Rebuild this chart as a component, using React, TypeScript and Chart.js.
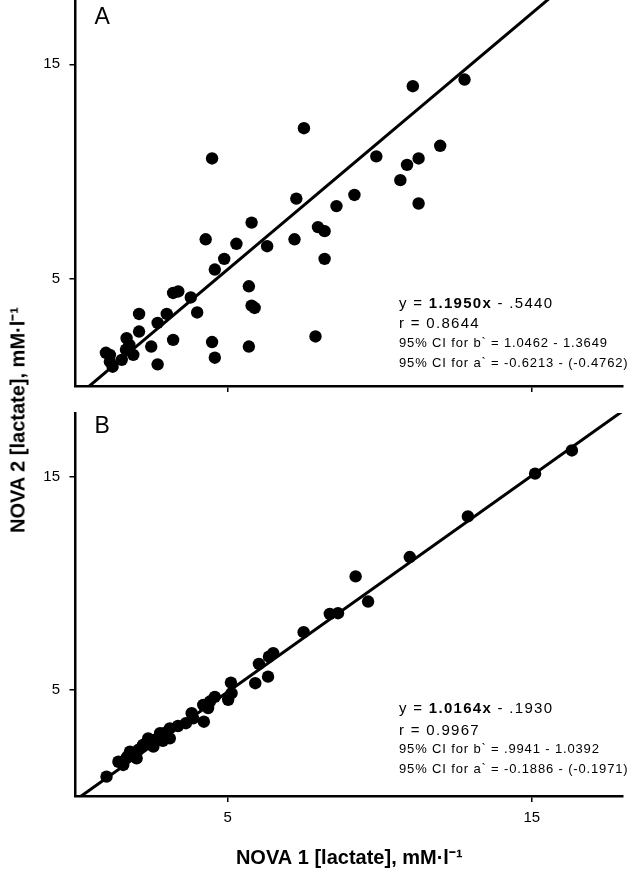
import React, { useEffect, useRef } from 'react';
import { Chart, registerables } from 'chart.js';

Chart.register(...registerables);

// ---- Data ----
const panelANova1 = [7.51, 4.49, 7.26, 9.17, 8.58, 5.79, 4.28, 5.29, 6.3, 7.2, 7.97, 8.19, 8.19, 4.89, 4.58, 5.7, 5.79, 5.89, 3.79, 3.21, 3.38, 4.0, 3.0, 2.09, 2.7, 2.09, 1.68, 3.21, 4.49, 5.7, 7.89, 2.49, 1.77, 4.58, 2.7, 1.9, 1.52, 1.13, 1.13, 1.22, 11.09, 12.79, 9.89, 11.99, 11.28, 10.9, 10.68, 11.28, 1.66, 1.0];
const panelANova2 = [12.02, 10.61, 8.74, 8.91, 8.39, 7.62, 6.84, 6.63, 6.52, 6.84, 7.41, 7.22, 5.93, 5.93, 5.43, 4.65, 3.75, 3.64, 4.13, 4.34, 4.41, 3.43, 3.36, 3.36, 2.94, 2.54, 2.23, 2.15, 2.05, 1.84, 2.31, 1.84, 1.92, 1.32, 1.01, 1.45, 1.22, 1.45, 1.14, 0.9, 13.98, 14.29, 10.71, 11.2, 10.61, 10.31, 9.6, 8.51, 1.69, 1.55];

const panelBNova1 = [16.32, 15.11, 12.9, 10.99, 9.21, 9.62, 8.36, 8.63, 7.5, 6.5, 6.36, 6.03, 5.91, 6.33, 5.11, 5.13, 5.02, 4.42, 4.2, 4.36, 4.22, 3.82, 3.87, 3.63, 3.1, 3.1, 2.78, 2.39, 2.56, 2.06, 1.79, 2.01, 1.41, 1.57, 1.02, 2.94, 2.61, 2.22, 3.37, 4.58, 2.87, 1.69];
const panelBNova2 = [16.24, 15.15, 13.14, 11.23, 10.32, 9.14, 8.56, 8.59, 7.7, 6.71, 6.55, 6.21, 5.3, 5.61, 5.33, 4.83, 4.52, 4.44, 4.28, 4.13, 3.49, 3.89, 3.65, 3.42, 3.18, 2.71, 2.95, 2.71, 2.32, 2.16, 2.08, 1.77, 1.61, 1.46, 0.91, 2.96, 2.63, 2.4, 3.29, 4.66, 2.59, 1.83];

const axisTicks = [5, 15];
const axisMin = 0;
const axisMax = 18;

const fitASlope = 1.195;
const fitAIntercept = -0.544;
const fitBSlope = 1.0164;
const fitBIntercept = -0.193;

const statsAEquation = ['y = ', '1.1950x', ' - .5440'];
const statsALines = ['r = 0.8644', '95% CI for b` = 1.0462 - 1.3649', '95% CI for a` = -0.6213 - (-0.4762)'];
const statsBEquation = ['y = ', '1.0164x', ' - .1930'];
const statsBLines = ['r = 0.9967', '95% CI for b` = .9941 - 1.0392', '95% CI for a` = -0.1886 - (-0.1971)'];

const xTitle = 'NOVA 1 [lactate], mM·l⁻¹';
const yTitle = 'NOVA 2 [lactate], mM·l⁻¹';

const FONT = '"Liberation Sans", Arial, Helvetica, sans-serif';

function toPoints(xs: number[], ys: number[]) {
  return xs.map((x, i) => ({ x, y: ys[i] }));
}

function fitLine(slope: number, intercept: number) {
  return [axisMin, axisMax].map((x) => ({ x, y: intercept + slope * x }));
}

function annotationPlugin(letter: string, letterBaseline: number, eq: string[], lines: string[], offsets: number[]) {
  return {
    id: 'panelAnnotations',
    afterDraw(chart: any) {
      const { ctx, chartArea } = chart;
      ctx.save();
      ctx.fillStyle = '#000';
      ctx.textAlign = 'left';
      ctx.textBaseline = 'alphabetic';
      ctx.font = `23px ${FONT}`;
      ctx.fillText(letter, chartArea.left + 19, chartArea.top + letterBaseline);
      const x0 = chartArea.left + 323.5;
      let x = x0;
      (ctx as any).letterSpacing = '1.3px';
      eq.forEach((part, i) => {
        ctx.font = `${i === 1 ? 'bold ' : ''}15px ${FONT}`;
        ctx.fillText(part, x, chartArea.bottom + offsets[0]);
        x += ctx.measureText(part).width;
      });
      ctx.font = `15px ${FONT}`;
      ctx.fillText(lines[0], x0, chartArea.bottom + offsets[1]);
      (ctx as any).letterSpacing = '0.85px';
      ctx.font = `13px ${FONT}`;
      ctx.fillText(lines[1], x0, chartArea.bottom + offsets[2]);
      ctx.fillText(lines[2], x0, chartArea.bottom + offsets[3]);
      ctx.restore();
    },
  };
}

function makeScale(axis: 'x' | 'y', size: number, showLabels: boolean, title?: string) {
  const s: any = {
    type: 'linear',
    min: axisMin,
    max: axisMax,
    afterBuildTicks: (scale: any) => {
      scale.ticks = axisTicks.map((value) => ({ value }));
    },
    afterFit: (scale: any) => {
      if (axis === 'x') scale.height = size;
      else scale.width = size;
      scale.paddingTop = 0;
      scale.paddingBottom = 0;
      scale.paddingLeft = 0;
      scale.paddingRight = 0;
    },
    grid: {
      display: true,
      drawOnChartArea: false,
      drawTicks: true,
      tickLength: 6,
      color: '#000',
      lineWidth: 1.5,
    },
    border: { display: true, color: '#000', width: 2.5 },
    ticks: {
      display: showLabels,
      color: '#000',
      font: { family: FONT, size: 15 },
      padding: axis === 'x' ? 7 : 9.5,
      callback: (v: number) => String(v),
    },
  };
  if (title) {
    s.title = {
      display: true,
      text: title,
      color: '#000',
      font: { family: FONT, size: 20, weight: 'bold' },
      padding: { top: 0, bottom: 2 },
    };
  }
  return s;
}

function makeConfig(xs: number[], ys: number[], slope: number, intercept: number, xHeight: number, padTop: number, showXLabels: boolean, xTitleText: string | undefined, plugin: any) {
  return {
    type: 'scatter' as const,
    data: {
      datasets: [
        {
          data: fitLine(slope, intercept),
          showLine: true,
          borderColor: '#000',
          borderWidth: 3,
          pointRadius: 0,
          fill: false,
        },
        {
          data: toPoints(xs, ys),
          backgroundColor: '#000',
          borderWidth: 0,
          pointRadius: 6.2,
          pointHoverRadius: 6.2,
        },
      ],
    },
    options: {
      responsive: false,
      animation: false,
      devicePixelRatio: 1,
      layout: { autoPadding: false, padding: { left: 0, right: 10, top: padTop, bottom: 0 } },
      plugins: { legend: { display: false }, tooltip: { enabled: false } },
      events: [],
      scales: {
        x: makeScale('x', xHeight, showXLabels, xTitleText),
        y: makeScale('y', 75.5, true),
      },
    },
    plugins: [plugin],
  };
}

export default function App() {
  const refA = useRef<HTMLCanvasElement | null>(null);
  const refB = useRef<HTMLCanvasElement | null>(null);

  useEffect(() => {
    document.body.style.margin = '0';
    const chartA = new Chart(
      refA.current!,
      makeConfig(panelANova1, panelANova2, fitASlope, fitAIntercept, 14, 0, false, undefined,
        annotationPlugin('A', 24, statsAEquation, statsALines, [-78, -58, -39, -19])) as any
    );
    const chartB = new Chart(
      refB.current!,
      makeConfig(panelBNova1, panelBNova2, fitBSlope, fitBIntercept, 76, 13, true, xTitle,
        annotationPlugin('B', 20, statsBEquation, statsBLines, [-83, -61, -43, -23])) as any
    );
    return () => {
      chartA.destroy();
      chartB.destroy();
    };
  }, []);

  return (
    <div style={{ position: 'relative', width: 633, height: 872, background: '#fff', overflow: 'hidden' }}>
      <canvas ref={refA} width={633} height={400} style={{ position: 'absolute', left: 0, top: 0, width: 633, height: 400 }} />
      <canvas ref={refB} width={633} height={472} style={{ position: 'absolute', left: 0, top: 400, width: 633, height: 472 }} />
      <div
        style={{
          position: 'absolute',
          left: 17,
          top: 420,
          transform: 'translate(-50%, -50%) rotate(-90deg)',
          whiteSpace: 'nowrap',
          font: `bold 20px ${FONT}`,
          color: '#000',
        }}
      >
        {yTitle}
      </div>
    </div>
  );
}
